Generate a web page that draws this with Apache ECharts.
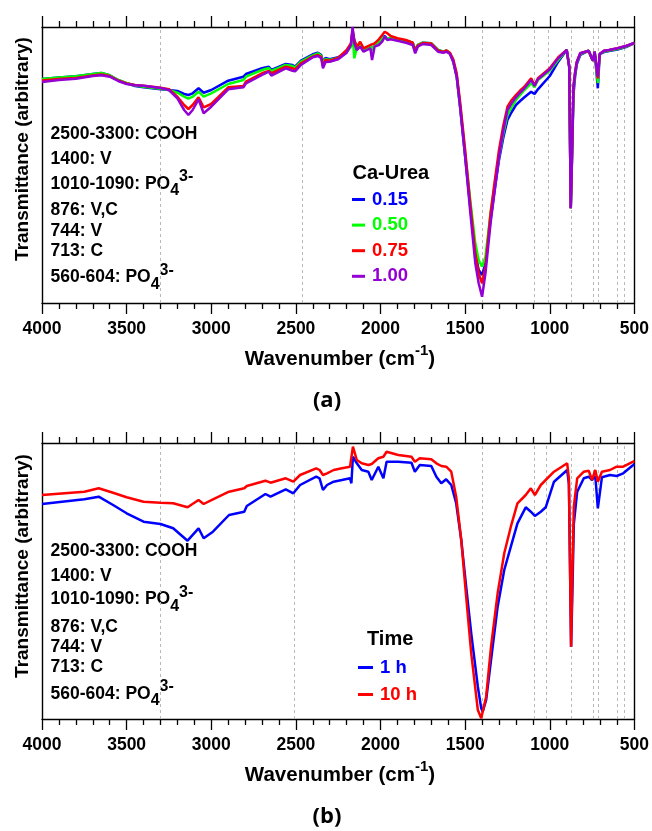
<!DOCTYPE html>
<html><head><meta charset="utf-8">
<script src="https://cdn.jsdelivr.net/npm/echarts@6/dist/echarts.min.js"></script>
<style>html,body{margin:0;padding:0;background:#fff}#c{width:652px;height:831px}</style>
</head><body><div id="c"></div>
<script>
// ---------- Panel (a): Ca-Urea ----------
const wnA = [
  4000,3900,3800,3700,3650,3600,3550,3500,3450,3400,3300,3250,
  3200,3160,3135,3110,3075,3045,3000,2900,2810,2795,
  2700,2660,2645,2560,2520,2505,2470,2400,2370,2350,
  2340,2325,2300,2250,2200,2175,2165,2155,2140,2120,
  2100,2080,2060,2050,2035,2010,1990,1975,1960,1940,
  1900,1850,1810,1795,1780,1750,1700,1660,1630,1610,
  1590,1570,1550,1530,1500,1470,1440,1420,1400,1380,
  1350,1325,1300,1275,1250,1225,1200,1175,1150,1110,1090,1070,1000,950,
  900,885,876,870,860,850,840,820,790,770,
  752,744,735,725,716,705,680,650,600,550,
  500];
const caUrea015 = [
  224,225.5,226.7,229,230,227.7,223,219.7,217,215.7,213.7,213,
  212,209,208,209.7,214.7,210.3,213,222.3,226.3,229,
  234.7,236.3,233,239,238,236.3,242.3,248.7,250.3,248,
  241.3,245,243.7,245.7,251.3,257,271.3,263,254.7,259.7,
  253,254.7,256.3,253,258,261.3,264.7,267,263.7,264.7,
  263.7,262.3,260.3,253,258,260.3,259.7,253,251.3,252.3,
  249.7,241.3,226.3,196.3,146.3,96.3,49.7,33,28,39.7,
  83,114,143,165,183,191,198,202,205.7,211.3,209,213.7,227,241.3,
  253,236.3,94.7,136.3,208,227,239,248,250.5,252.3,
  244.7,242.3,251.3,250,214.7,249,251,252,253.5,256,
  260];
const caUrea050 = [
  224,225.5,226.7,229,230,227.7,223,220,217.5,216.3,214.3,213,
  210.3,206.3,204.3,206.3,211.3,206.3,209.7,219,223,226.3,
  233,235,232,238,237,235.3,241.3,247.7,249.7,247,
  240,244,243,245,251,256.3,269.7,244.7,254.7,259,
  253,254.7,256.3,253,258,261.3,265,265.7,264,265,
  264,262.3,260.3,253,258,260.3,259.7,253,251.3,252.3,
  249.7,242,228,198,149.7,103,59.7,43,36.3,46.3,
  89.7,119,146.3,169,188,196,203,208,213,219.7,215.7,223,232.3,243,
  253,236.3,94.7,136.3,214,230,240.5,249,251,252.3,
  244.7,242.3,251.3,250,220,249,251.5,252.5,254,256.5,
  260];
const caUrea075 = [
  222.5,224,225,227.5,228.5,227,222.5,219.5,218,217.3,215.3,213.7,
  206.3,198,194,198,205.7,195.7,199,215.7,217,221.3,
  229.7,232,229.7,236.3,234.7,233.7,239.7,246.3,248,246,
  237,243,242.3,245,253,259.7,273,263,256.3,261.3,
  254.7,256.3,258,256.3,259.7,263.7,268,271.3,269.7,267,
  264.7,263,260.3,252,257.5,260,259.5,252.5,251,252.5,
  250.3,243.7,229.7,201.3,153,99.7,49.7,29.7,19.7,36.3,
  89.7,122,153,177,196.3,203,208,212.5,216.3,224.7,218,224.7,234.7,245.7,
  253,236.3,94.7,136.3,216.3,231,241.3,249.7,251.3,252.3,
  244.7,242.3,251.3,250,224.7,249,252.3,253,254.7,257,
  260];
const caUrea100 = [
  221,223,224.3,227,227.7,226.3,222,219,217.7,217.3,215,213,
  204.7,193,188,193,203.7,189.7,196.3,213.7,215.7,219.7,
  228,231.3,227.3,234.7,232.3,231.7,238,245.7,247,244.7,
  234.7,241,241.3,243.7,250.3,258,276,259.7,253,256.3,
  251.3,253,254.7,243,256.3,258,261.3,266.3,263,263.7,
  262.3,260.3,258,249.7,256.3,259,258,251.3,250.3,251.3,
  249,241.3,226.3,196.3,146.3,91.3,39.7,19.7,6.3,29.7,
  79.7,113,146.3,172,193,200,205.7,210.5,214.7,223,217,223.7,233.7,244.7,
  253,236.3,94.7,136.3,216.3,231,241.3,249.7,251.3,252.3,
  244.7,242.3,251.3,250,226.3,249,252.3,253,254.7,257,
  260];
const seriesNamesA = ['0.15','0.50','0.75','1.00'];

// ---------- Panel (b): Time ----------
const wnB = [
  4000,3750,3665,3580,3500,3400,3300,3225,3140,3075,
  3045,2990,2895,2805,2790,2680,2650,2560,2515,2475,
  2380,2360,2340,2316,2277,2228,2180,2172,2163,2140,
  2111,2072,2052,2013,1983,1964,1895,1817,1797,1768,
  1700,1670,1641,1612,1582,1553,1523,1494,1464,1425,
  1405,1396,1376,1347,1308,1269,1230,1191,1142,1112,
  1088,1053,1024,975,897,887,874,866,858,838,
  799,770,750,731,716,692,644,605,566,507,
  500];
const time1h = [
  215,219.7,222.3,214,205.7,197.3,195,190.7,178.3,190.7,
  180.7,187.3,204,207.3,213,225,222.3,229.7,225.7,234,
  242.3,240.7,229,234,237.3,239,240.7,235.7,262.3,255.7,
  249,247.3,239,252.3,240.7,257.3,257.3,256.3,247.3,254,
  253,242.3,235.7,239.7,234,215.7,179,132.3,85.7,32.3,
  10.7,7.3,19,59,112.3,149,172.3,195.7,211.7,207.3,
  203,207.3,211.7,237.3,249,235,72.3,130,195,227.3,
  240.7,242.3,239,243,210.7,241.7,244,243,245.7,254,
  255];
const time10h = [
  224,227.3,230.7,226.3,221.7,217.3,216.3,215.7,211.7,219,
  215,219.7,227.3,230.7,233,238.3,236.3,240.7,237.3,244,
  250.7,249,244,245.7,249,250.7,252.3,252,272.3,259,
  255.7,254,255,260.7,262.3,267.3,264,262.3,257.3,260.7,
  259.7,255.7,253,252.3,247.3,222.3,179,122.3,65.7,9,
  0.7,0.7,22.3,72.3,125.7,165.7,192.3,215.7,224,230.7,
  224,234,239,247.3,255.7,240,72.3,150,212.3,240.7,
  247.3,248.3,239,249,237.3,247.3,249,252.3,252.3,257.3,
  258];
const seriesNamesB = ['1 h','10 h'];

// ---------- Band markers & labels ----------
const bandLinesA = [3300, 2460, 1400, 1090, 1010, 876, 744, 713, 604, 560];
const bandLinesB = [3300, 2510, 1400, 1090, 1020, 876, 744, 713, 604, 560];
const bandLabels = [
  ['2500-3300: COOH'], ['1400: V'], ['1010-1090: PO', '4', '3-'],
  ['876: V,C'], ['744: V'], ['713: C'], ['560-604: PO', '4', '3-']
];
const legendTitleA = 'Ca-Urea';
const legendTitleB = 'Time';
const xTitle = ['Wavenumber (cm', '-1', ')'];
const yTitle = 'Transmittance (arbitrary)';
const panelLabels = ['(a)', '(b)'];

// ---------- styling ----------
const FF = '"Liberation Sans", Arial, sans-serif';
const colorsA = ['#0000ff', '#00ff00', '#ff0000', '#9400d3'];
const colorsB = ['#0000ff', '#ff0000'];
const pair = (xs, ys) => xs.map((x, i) => [x, ys[i]]);

const chart = echarts.init(document.getElementById('c'), null, {renderer: 'canvas'});

function xAx(grid, pos) {
  return {
    type: 'value', gridIndex: grid, position: pos, min: 500, max: 4000, interval: 500, inverse: true,
    axisLine: {show: true, onZero: false, lineStyle: {color: '#000', width: 1.4}},
    axisTick: {show: true, inside: false, length: 11, lineStyle: {color: '#000', width: 1.3}},
    minorTick: {show: true, splitNumber: 5, length: 6, lineStyle: {color: '#000', width: 1.3}},
    axisLabel: {show: pos === 'bottom', margin: 17, fontSize: 17.5, fontWeight: 'bold', color: '#000',
      fontFamily: FF, formatter: v => String(v)},
    splitLine: {show: false}, minorSplitLine: {show: false}
  };
}
function yAx(grid, pos) {
  return {
    type: 'value', gridIndex: grid, position: pos, min: 0, max: 276,
    axisLine: {show: true, lineStyle: {color: '#000', width: 1.4}},
    axisTick: {show: false}, axisLabel: {show: false}, splitLine: {show: false}
  };
}
function bandMarks(lines) {
  return {
    silent: true, z: 1, symbol: ['none', 'none'], animation: false,
    label: {show: false}, emphasis: {disabled: true},
    lineStyle: {color: '#b8b8b8', width: 1, type: [3, 3]},
    data: lines.map(v => ({xAxis: v}))
  };
}

const series = [];
[caUrea015, caUrea050, caUrea075, caUrea100].forEach((arr, i) => {
  series.push({
    name: seriesNamesA[i], type: 'line', xAxisIndex: 0, yAxisIndex: 0,
    data: pair(wnA, arr), showSymbol: false, symbol: 'none', z: 3 + i,
    lineStyle: {color: colorsA[i], width: 2.5}, itemStyle: {color: colorsA[i]},
    emphasis: {disabled: true}, animation: false,
    markLine: i === 0 ? bandMarks(bandLinesA) : undefined
  });
});
[time1h, time10h].forEach((arr, i) => {
  series.push({
    name: seriesNamesB[i], type: 'line', xAxisIndex: 2, yAxisIndex: 2,
    data: pair(wnB, arr), showSymbol: false, symbol: 'none', z: 3 + i,
    lineStyle: {color: colorsB[i], width: 2.5}, itemStyle: {color: colorsB[i]},
    emphasis: {disabled: true}, animation: false,
    markLine: i === 0 ? bandMarks(bandLinesB) : undefined
  });
});

const richMain = {
  m: {fontSize: 17.5, fontWeight: 'bold', fontFamily: FF, fill: '#000', lineHeight: 26},
  sub: {fontSize: 16, fontWeight: 'bold', fontFamily: FF, fill: '#000', height: 12, lineHeight: 12, verticalAlign: 'bottom'},
  sup: {fontSize: 16, fontWeight: 'bold', fontFamily: FF, fill: '#000', height: 12, lineHeight: 12, verticalAlign: 'top'}
};
function richStr(parts) {
  let s = '{m|' + parts[0] + '}';
  if (parts[1]) s += '{sub|' + parts[1] + '}';
  if (parts[2]) s += '{sup|' + parts[2] + '}';
  return s;
}
const graphics = [];
const labelYA = [134, 159, 184, 210.5, 231, 251, 277.5];
const labelYB = [551, 576, 599.5, 627.5, 647.5, 667.5, 694];
bandLabels.forEach((parts, i) => {
  graphics.push({type: 'text', x: 50.5, y: labelYA[i], silent: true,
    style: {text: richStr(parts), rich: richMain, textAlign: 'left', textVerticalAlign: 'middle'}});
  graphics.push({type: 'text', x: 50.5, y: labelYB[i], silent: true,
    style: {text: richStr(parts), rich: richMain, textAlign: 'left', textVerticalAlign: 'middle'}});
});
const richTitle = {
  t: {fontSize: 20.5, fontWeight: 'bold', fontFamily: FF, fill: '#000', lineHeight: 28},
  s: {fontSize: 15, fontWeight: 'bold', fontFamily: FF, fill: '#000', height: 12, lineHeight: 12, verticalAlign: 'top'}
};
const xTitleStr = '{t|' + xTitle[0] + '}{s|' + xTitle[1] + '}{t|' + xTitle[2] + '}';
[[359, 149, 401], [775, 566, 817]].forEach((p, k) => {
  graphics.push({type: 'text', x: 340, y: p[0], silent: true,
    style: {text: xTitleStr, rich: richTitle, textAlign: 'center', textVerticalAlign: 'middle'}});
  graphics.push({type: 'text', x: 23, y: p[1], rotation: Math.PI / 2, silent: true,
    style: {text: yTitle, font: 'bold 19px ' + FF, fill: '#000', textAlign: 'center', textVerticalAlign: 'middle'}});
  graphics.push({type: 'text', x: 327, y: p[2], silent: true,
    style: {text: panelLabels[k], font: 'bold 22px "Open Sans", ' + FF, fill: '#000', textAlign: 'center', textVerticalAlign: 'middle'}});
});
graphics.push({type: 'text', x: 352.5, y: 173, silent: true,
  style: {text: legendTitleA, font: 'bold 20px ' + FF, fill: '#000', textAlign: 'left', textVerticalAlign: 'middle'}});
graphics.push({type: 'text', x: 367, y: 639.5, silent: true,
  style: {text: legendTitleB, font: 'bold 20px ' + FF, fill: '#000', textAlign: 'left', textVerticalAlign: 'middle'}});

const legendBase = {
  orient: 'vertical', padding: 0, itemWidth: 13, itemHeight: 3, icon: 'rect',
  selectedMode: false, textStyle: {fontSize: 18.5, fontWeight: 'bold', fontFamily: FF, padding: [0, 0, 0, 2]}
};

chart.setOption({
  animation: false,
  backgroundColor: '#fff',
  grid: [
    {left: 42, top: 27, width: 595, height: 276, containLabel: false},
    {left: 42, top: 443, width: 595, height: 276, containLabel: false}
  ],
  xAxis: [xAx(0, 'bottom'), xAx(0, 'top'), xAx(1, 'bottom'), xAx(1, 'top')],
  yAxis: [yAx(0, 'left'), yAx(0, 'right'), yAx(1, 'left'), yAx(1, 'right')],
  legend: [
    Object.assign({}, legendBase, {left: 352, top: 190, itemGap: 6.6,
      data: seriesNamesA.map((n, i) => ({name: n, textStyle: {color: colorsA[i]}}))}),
    Object.assign({}, legendBase, {left: 358, top: 658, itemWidth: 15, itemGap: 8,
      data: seriesNamesB.map((n, i) => ({name: n, textStyle: {color: colorsB[i]}}))})
  ],
  graphic: graphics,
  series: series
});
</script>
</body></html>
